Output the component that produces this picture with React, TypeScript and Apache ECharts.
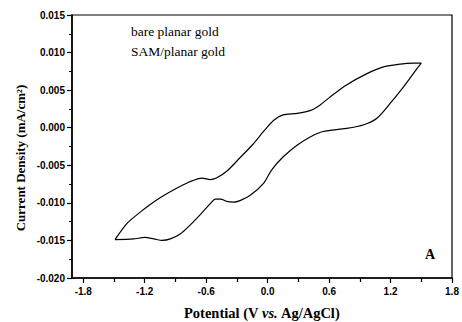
import React, { useEffect, useRef } from "react";
import * as echarts from "echarts";

// Forward (lower) scan: left vertex -> right vertex
const forwardPotential = [-1.49, -1.31, -1.2, -1.11, -1.03, -0.95, -0.85, -0.76, -0.66, -0.56, -0.51, -0.46, -0.4, -0.33, -0.27, -0.17, -0.04, 0.04, 0.15, 0.29, 0.42, 0.54, 0.77, 0.94, 1.07, 1.2, 1.29, 1.39, 1.46, 1.5];
const forwardCurrent = [-0.0149, -0.0148, -0.0146, -0.0148, -0.015, -0.0148, -0.0141, -0.013, -0.0116, -0.0101, -0.0095, -0.0095, -0.0098, -0.0099, -0.0097, -0.009, -0.0074, -0.0056, -0.0039, -0.0023, -0.0012, -0.0005, -0.0001, 0.0004, 0.0013, 0.0033, 0.0048, 0.0066, 0.0079, 0.0086];

// Reverse (upper) scan: right vertex -> left vertex
const reversePotential = [1.42, 1.26, 1.13, 0.97, 0.77, 0.61, 0.51, 0.42, 0.29, 0.15, 0.06, -0.04, -0.15, -0.27, -0.4, -0.5, -0.56, -0.64, -0.76, -0.92, -1.08, -1.24, -1.37, -1.49];
const reverseCurrent = [0.0086, 0.0084, 0.0081, 0.0072, 0.0057, 0.0041, 0.003, 0.0023, 0.0019, 0.0017, 0.001, -0.0005, -0.0023, -0.004, -0.0058, -0.0067, -0.0069, -0.0067, -0.0072, -0.0083, -0.0096, -0.0112, -0.0127, -0.0149];

const xTickValues = [-1.8, -1.2, -0.6, 0.0, 0.6, 1.2, 1.8];
const xMinorTickValues = [-1.5, -0.9, -0.3, 0.3, 0.9, 1.5];
const legendLabels = ["bare planar gold", "SAM/planar gold"];
const panelLabel = "A";
const seriesName = "SAM/planar gold";
const yAxisTitle = "Current Density (mA/cm\u00B2)";

export default function App() {
  const ref = useRef<HTMLDivElement>(null);
  useEffect(() => {
    const chart = echarts.init(ref.current!, null, { renderer: "svg" });
    const loop: number[][] = [];
    forwardPotential.forEach((v, i) => loop.push([v, forwardCurrent[i]]));
    reversePotential.forEach((v, i) => loop.push([v, reverseCurrent[i]]));

    const tickFont = { fontFamily: "Liberation Sans", fontWeight: "bold", fontSize: 10, color: "#000" };
    const xMin = -1.91;
    const xMax = 1.8;

    chart.setOption({
      animation: false,
      backgroundColor: "#fff",
      grid: {
        left: 72,
        right: 10,
        top: 15,
        bottom: 44,
        containLabel: false,
        outerBoundsMode: "none",
        show: true,
        borderColor: "#000",
        borderWidth: 1.2,
        backgroundColor: "transparent",
      },
      xAxis: [
        {
          type: "value",
          min: xMin,
          max: xMax,
          position: "bottom",
          axisLine: { show: true, onZero: false, lineStyle: { color: "#000", width: 1.6 } },
          axisTick: { show: true, customValues: xTickValues, length: 5, inside: false, lineStyle: { color: "#000", width: 1.2 } },
          axisLabel: { show: true, customValues: xTickValues, margin: 8, formatter: (v: number) => v.toFixed(1), ...tickFont },
          splitLine: { show: false },
          name: "{b|Potential (V }{i|vs.}{b| Ag/AgCl)}",
          nameLocation: "middle",
          nameGap: 27,
          nameTextStyle: {
            rich: {
              b: { fontFamily: "Liberation Serif", fontWeight: "bold", fontSize: 14.5, color: "#000" },
              i: { fontFamily: "Liberation Serif", fontWeight: "bold", fontStyle: "italic", fontSize: 14.5, color: "#000" },
            },
          },
        },
        {
          type: "value",
          min: xMin,
          max: xMax,
          position: "top",
          offset: -263,
          axisLine: { show: true, onZero: false, lineStyle: { color: "rgba(0,0,0,0)", width: 0 } },
          axisTick: { show: true, inside: true, customValues: xMinorTickValues, length: 4, lineStyle: { color: "#000", width: 1.2 } },
          axisLabel: { show: true, customValues: xMinorTickValues, formatter: () => "", color: "rgba(0,0,0,0)", fontSize: 1 },
          splitLine: { show: false },
        },
      ],
      yAxis: [
        {
          type: "value",
          min: -0.02,
          max: 0.015,
          interval: 0.005,
          position: "left",
          axisLine: { show: true, onZero: false, lineStyle: { color: "#000", width: 1.6 } },
          axisTick: { show: true, length: 5, lineStyle: { color: "#000", width: 1.2 } },
          minorTick: { show: true, splitNumber: 2, length: 3, lineStyle: { color: "#000", width: 1 } },
          axisLabel: { margin: 7, formatter: (v: number) => v.toFixed(3), ...tickFont },
          splitLine: { show: false },
        },
      ],
      series: [
        {
          name: seriesName,
          type: "line",
          xAxisIndex: 0,
          yAxisIndex: 0,
          data: loop,
          showSymbol: false,
          smooth: 0.3,
          lineStyle: { color: "#000", width: 1.2 },
        },
      ],
      graphic: [
        {
          type: "text",
          x: 20,
          y: 158,
          rotation: Math.PI / 2,
          style: { text: yAxisTitle, align: "center", verticalAlign: "middle", fontFamily: "Liberation Serif", fontWeight: "bold", fontSize: 13, fill: "#000" },
        },
        { type: "text", left: 131, top: 24, style: { text: legendLabels[0], fontFamily: "Liberation Serif", fontSize: 13.5, fill: "#000" } },
        { type: "text", left: 131, top: 44, style: { text: legendLabels[1], fontFamily: "Liberation Serif", fontSize: 13.5, fill: "#000" } },
        { type: "text", left: 425, top: 247, style: { text: panelLabel, fontFamily: "Liberation Serif", fontWeight: "bold", fontSize: 14, fill: "#000" } },
      ],
    });
    return () => chart.dispose();
  }, []);
  return <div ref={ref} style={{ position: "absolute", left: 0, top: 0, width: 462, height: 322 }} />;
}
